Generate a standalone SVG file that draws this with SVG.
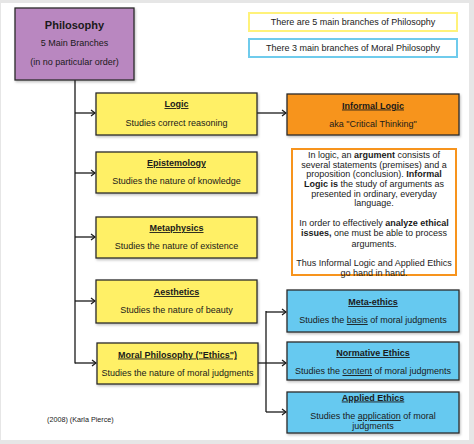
<svg xmlns="http://www.w3.org/2000/svg" width="474" height="444" viewBox="0 0 474 444">
<style>
text{font-family:"Liberation Sans",Arial,sans-serif;font-size:9px;fill:#1a1a1a;text-anchor:middle}
.t{font-weight:bold;text-decoration:underline}
.b{font-weight:bold}
.box{stroke:#2b2b2b;stroke-width:1.3}
.y{fill:#fff066}
.bl{fill:#66c9f0}
.con{stroke:#1a1a1a;stroke-width:1.3;fill:none}
</style>
<defs>
<marker id="ar" markerWidth="8" markerHeight="8" refX="6" refY="4" orient="auto" markerUnits="userSpaceOnUse">
<path d="M2,1 L6,4 L2,7" fill="none" stroke="#1a1a1a" stroke-width="1.2"/>
</marker>
<filter id="sh" x="-5%" y="-5%" width="115%" height="120%">
<feDropShadow dx="1" dy="1.5" stdDeviation="0.8" flood-color="#000" flood-opacity="0.25"/>
</filter>
</defs>
<rect width="474" height="444" fill="#e6e6e6"/>
<rect x="1" y="3" width="468" height="437" fill="#fff"/>

<g id="connectors">
<path class="con" d="M75,80 V363.5"/>
<path class="con" d="M75,113 H95" marker-end="url(#ar)"/>
<path class="con" d="M75,173 H95" marker-end="url(#ar)"/>
<path class="con" d="M75,237 H95" marker-end="url(#ar)"/>
<path class="con" d="M75,301 H95" marker-end="url(#ar)"/>
<path class="con" d="M75,363 H96" marker-end="url(#ar)"/>
<path class="con" d="M257,113 H286" marker-end="url(#ar)"/>
<path class="con" d="M258,363 H286" marker-end="url(#ar)"/>
<path class="con" d="M266,311 V412"/>
<path class="con" d="M266,312 H286" marker-end="url(#ar)"/>
<path class="con" d="M266,412 H286" marker-end="url(#ar)"/>
</g>

<g id="philosophy">
<rect class="box" x="15" y="8" width="119" height="72" fill="#b987c0" filter="url(#sh)"/>
<text x="74.5" y="29" class="b" style="font-size:11px">Philosophy</text>
<text x="74.5" y="46">5 Main Branches</text>
<text x="74.5" y="64.5">(in no particular order)</text>
</g>

<g id="legend-yellow">
<rect x="249" y="13" width="208" height="18" fill="#fff" stroke="#fff27a" stroke-width="2"/>
<text x="353" y="25">There are 5 main branches of Philosophy</text>
</g>
<g id="legend-blue">
<rect x="249" y="39" width="208" height="18" fill="#fff" stroke="#6fcbec" stroke-width="2"/>
<text x="353" y="51">There 3 main branches of Moral Philosophy</text>
</g>

<g id="logic">
<rect class="box y" x="96" y="93" width="161" height="42" filter="url(#sh)"/>
<text x="176.5" y="107" class="t">Logic</text>
<text x="176.5" y="125.5">Studies correct reasoning</text>
</g>
<g id="epistemology">
<rect class="box y" x="96" y="152" width="161" height="41" filter="url(#sh)"/>
<text x="176.5" y="166" class="t">Epistemology</text>
<text x="176.5" y="184">Studies the nature of knowledge</text>
</g>
<g id="metaphysics">
<rect class="box y" x="96" y="217" width="161" height="41" filter="url(#sh)"/>
<text x="176.5" y="231" class="t">Metaphysics</text>
<text x="176.5" y="249">Studies the nature of existence</text>
</g>
<g id="aesthetics">
<rect class="box y" x="96" y="280" width="161" height="43" filter="url(#sh)"/>
<text x="176.5" y="295" class="t">Aesthetics</text>
<text x="176.5" y="312.5">Studies the nature of beauty</text>
</g>
<g id="moral">
<rect class="box y" x="97" y="343" width="161" height="41" filter="url(#sh)"/>
<text x="177.5" y="357.5" class="t">Moral Philosophy ("Ethics")</text>
<text x="177.5" y="375.5">Studies the nature of moral judgments</text>
</g>

<g id="informal-logic">
<rect class="box" x="287" y="94" width="172" height="41" fill="#f7941d" filter="url(#sh)"/>
<text x="373" y="108.5" class="t">Informal Logic</text>
<text x="373" y="126.5">aka "Critical Thinking"</text>
</g>

<g id="note">
<rect x="292" y="149" width="164" height="126" fill="#fff" stroke="#f7941d" stroke-width="2"/>
<text x="374" y="158">In logic, an <tspan class="b">argument</tspan> consists of</text>
<text x="374" y="167.5">several statements (premises) and a</text>
<text x="374" y="177">proposition (conclusion).  <tspan class="b">Informal</tspan></text>
<text x="374" y="187"><tspan class="b">Logic is</tspan> the study of arguments as</text>
<text x="374" y="196.5">presented in ordinary, everyday</text>
<text x="374" y="206">language.</text>
<text x="374" y="225.5">In order to effectively <tspan class="b">analyze ethical</tspan></text>
<text x="374" y="236"><tspan class="b">issues,</tspan> one must be able to process</text>
<text x="374" y="246.5">arguments.</text>
<text x="374" y="265.5">Thus Informal Logic and Applied Ethics</text>
<text x="374" y="276">go hand in hand.</text>
</g>

<g id="meta-ethics">
<rect class="box bl" x="287" y="290" width="172" height="42" filter="url(#sh)"/>
<text x="373" y="305" class="t">Meta-ethics</text>
<text x="373" y="323">Studies the <tspan text-decoration="underline">basis</tspan> of moral judgments</text>
</g>
<g id="normative-ethics">
<rect class="box bl" x="287" y="342" width="172" height="38" filter="url(#sh)"/>
<text x="373" y="356" class="t">Normative Ethics</text>
<text x="373" y="374">Studies the <tspan text-decoration="underline">content</tspan> of moral judgments</text>
</g>
<g id="applied-ethics">
<rect class="box bl" x="287" y="392" width="172" height="41" filter="url(#sh)"/>
<text x="373" y="400.5" class="t">Applied Ethics</text>
<text x="373" y="419">Studies the <tspan text-decoration="underline">application</tspan> of moral</text>
<text x="373" y="429">judgments</text>
</g>

<text x="47" y="422" style="font-size:7.2px;text-anchor:start">(2008) (Karla Pierce)</text>
</svg>
